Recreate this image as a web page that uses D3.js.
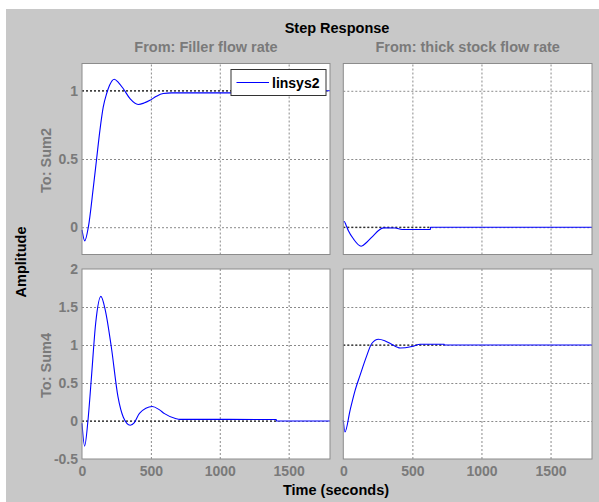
<!DOCTYPE html>
<html>
<head>
<meta charset="utf-8">
<script src="https://cdn.jsdelivr.net/npm/d3@7"></script>
<style>
  body{ margin:0; background:#fff; }
  svg{ display:block; font-family:"Liberation Sans", Arial, sans-serif; }
  .tick text{ fill:#7a7a7a; font-weight:bold; font-size:14px; }
  .grid line{ stroke:#8a8a8a; stroke-dasharray:2,2; stroke-width:1; }
  .grid .domain{ display:none; }
</style>
</head>
<body>
<svg id="chart" width="599" height="502"></svg>
<script>
// Step response of linsys2: 2 inputs x 2 outputs
const timeTicks = [0, 500, 1000, 1500]
const timeDomain = [0, 1800]
const inputNames = ['Filler flow rate', 'thick stock flow rate']
const outputNames = ['Sum2', 'Sum4']
const sum2Ticks = [0, 0.5, 1]
const sum2Domain = [-0.2, 1.2]
const sum4Ticks = [-0.5, 0, 0.5, 1, 1.5, 2]
const sum4Domain = [-0.5, 2]

// [time, amplitude]
const sum2Filler = [[0,-0.02],[20,-0.1],[46,0],[82,0.29],[106,0.5],[130,0.71],[154,0.88],[179,0.98],[200,1.04],[234,1.085],[265,1.06],[300,1.015],[350,0.94],[408,0.9],[450,0.91],[493,0.93],[540,0.96],[589,0.98],[650,0.985],[1410,0.985],[1411,1],[1800,1]]
const sum2Thick = [[0,0.037],[7,0.042],[20,0.015],[36,-0.024],[73,-0.085],[129,-0.139],[170,-0.11],[218,-0.061],[255,-0.024],[291,-0.005],[376,-0.006],[425,-0.017],[630,-0.017],[631,0],[1800,0]]
const sum4Filler = [[0,-0.03],[19,-0.33],[43,0],[67,0.54],[100,1.3],[137,1.64],[170,1.45],[213,0.97],[261,0.32],[300,0.05],[350,-0.055],[380,-0.02],[417,0.1],[510,0.19],[560,0.15],[599,0.097],[683,0.03],[710,0.022],[1410,0.02],[1411,0],[1800,0]]
const sum4Thick = [[0,0.01],[12,-0.145],[49,0.14],[85,0.4],[121,0.6],[170,0.86],[206,1.02],[255,1.075],[300,1.055],[340,1.02],[412,0.96],[497,0.98],[558,1.01],[730,1.01],[731,1],[1800,1]]

const panels = [
  { row:0, col:0, data:sum2Filler, final:1, simEnd:1410 },
  { row:0, col:1, data:sum2Thick, final:0, simEnd:630 },
  { row:1, col:0, data:sum4Filler, final:0, simEnd:1410 },
  { row:1, col:1, data:sum4Thick, final:1, simEnd:730 }
]
const rowTicks = [sum2Ticks, sum4Ticks]
const rowDomains = [sum2Domain, sum4Domain]

const colX = [[82, 330], [343.3, 592]]
const rowY = [[63.5, 254.5], [269, 459]]

const svg = d3.select('#chart')
svg.append('rect').attr('x', 6).attr('y', 9).attr('width', 593).attr('height', 493).attr('fill', '#c8c8c8')

const fmt = d => String(d)

panels.forEach(p => {
  const [x0, x1] = colX[p.col], [y0, y1] = rowY[p.row]
  const x = d3.scaleLinear().domain(timeDomain).range([x0, x1])
  const y = d3.scaleLinear().domain(rowDomains[p.row]).range([y1, y0])
  const g = svg.append('g')

  g.append('rect').attr('x', x0).attr('y', y0).attr('width', x1 - x0).attr('height', y1 - y0)
    .attr('fill', '#fff')

  // grid
  g.append('g').attr('class', 'grid').attr('transform', `translate(0,${y1})`)
    .call(d3.axisBottom(x).tickValues(timeTicks.slice(1)).tickSize(-(y1 - y0)).tickFormat(''))
  const yInner = rowTicks[p.row].filter(v => v > rowDomains[p.row][0] && v < rowDomains[p.row][1])
  g.append('g').attr('class', 'grid').attr('transform', `translate(${x0},0)`)
    .call(d3.axisLeft(y).tickValues(yInner).tickSize(-(x1 - x0)).tickFormat(''))

  // steady-state line
  g.append('line').attr('x1', x(0)).attr('x2', x(p.simEnd)).attr('y1', y(p.final)).attr('y2', y(p.final))
    .attr('stroke', '#000').attr('stroke-dasharray', '2,2')

  // response
  g.append('path').datum(p.data)
    .attr('fill', 'none').attr('stroke', '#0000ff').attr('stroke-width', 1.1)
    .attr('d', d3.line().x(d => x(d[0])).y(d => y(d[1])).curve(d3.curveMonotoneX))

  g.append('rect').attr('x', x0).attr('y', y0).attr('width', x1 - x0).attr('height', y1 - y0)
    .attr('fill', 'none').attr('stroke', '#8c8c8c')

  if (p.col === 0) {
    const ay = g.append('g').attr('transform', `translate(${x0},0)`)
      .call(d3.axisLeft(y).tickValues(rowTicks[p.row]).tickSize(0).tickPadding(4).tickFormat(fmt))
    ay.select('.domain').remove()
  }
  if (p.row === 1) {
    const ax = g.append('g').attr('transform', `translate(0,${y1})`)
      .call(d3.axisBottom(x).tickValues(timeTicks).tickSize(0).tickPadding(7.5).tickFormat(fmt))
    ax.select('.domain').remove()
  }

  if (p.row === 0 && p.col === 0) {
    const lg = g.append('g').attr('transform', `translate(${x1 - 99},${y0 + 6})`)
    lg.append('rect').attr('width', 95).attr('height', 26).attr('fill', '#fff').attr('stroke', '#333')
    lg.append('line').attr('x1', 5.5).attr('x2', 38).attr('y1', 13).attr('y2', 13).attr('stroke', '#0000ff')
    lg.append('text').attr('x', 41).attr('y', 18.5).attr('font-size', '14px').attr('font-weight', 'bold')
      .attr('fill', '#000').text('linsys2')
  }
})

// titles
const txt = (x, y, s, color, rot) => {
  const t = svg.append('text').attr('text-anchor', 'middle').attr('font-weight', 'bold')
    .attr('font-size', '14.5px').attr('fill', color).text(s)
  if (rot) t.attr('transform', `translate(${x},${y}) rotate(-90)`)
  else t.attr('x', x).attr('y', y)
}
txt(337, 33, 'Step Response', '#000')
inputNames.forEach((n, i) => txt((colX[i][0] + colX[i][1]) / 2, 51.5, 'From: ' + n, '#7a7a7a'))
outputNames.forEach((n, i) => txt(50.5, (rowY[i][0] + rowY[i][1]) / 2 + 1.5, 'To: ' + n, '#7a7a7a', true))
txt(26, 262, 'Amplitude', '#000', true)
txt(336, 495, 'Time (seconds)', '#000')
</script>
</body>
</html>
